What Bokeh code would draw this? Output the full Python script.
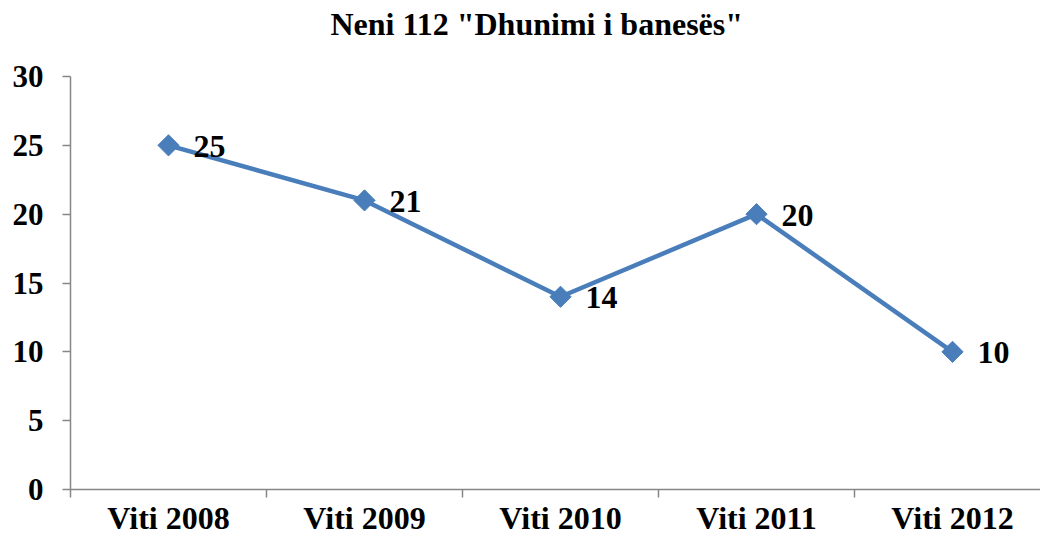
import math
from bokeh.plotting import figure
from bokeh.models import Range1d, FixedTicker, Title
from bokeh.core.properties import value
from bokeh.embed import file_html
from bokeh.resources import INLINE

categories = ["Viti 2008", "Viti 2009", "Viti 2010", "Viti 2011", "Viti 2012"]
values = [25, 21, 14, 20, 10]
y_ticks = [0, 5, 10, 15, 20, 25, 30]
title_text = 'Neni 112 "Dhunimi i banesës"'

FONT = "Liberation Serif"
AXIS_COLOR = "#868686"
LINE_COLOR = "#4A7EBB"

xs = [i + 0.5 for i in range(len(categories))]
boundaries = [float(i) for i in range(len(categories) + 1)]

p = figure(width=1040, height=539, output_backend="svg", toolbar_location=None,
           x_range=Range1d(0, 970 / 196), y_range=Range1d(0, 30),
           min_border_left=70, min_border_right=0, min_border_top=76, min_border_bottom=50)
p.title = None
p.outline_line_color = None
p.xgrid.grid_line_color = None
p.ygrid.grid_line_color = None

# spacer between frame and title (closest to the frame)
p.add_layout(Title(text=" ", text_font_size="1px", standoff=31), "above")
p.add_layout(Title(text=title_text, align="left", vertical_align="bottom", text_font=FONT,
                   text_font_size="32px", text_font_style="bold", text_color="black",
                   offset=260, standoff=2), "above")

# y axis
ya = p.yaxis[0]
ya.ticker = FixedTicker(ticks=y_ticks, minor_ticks=[])
ya.axis_line_color = AXIS_COLOR
ya.axis_line_width = 1.5
ya.major_tick_line_color = AXIS_COLOR
ya.major_tick_line_width = 1.5
ya.major_tick_in = 0
ya.major_tick_out = 8
ya.minor_tick_line_color = None
ya.major_label_standoff = 19
ya.major_label_text_font = FONT
ya.major_label_text_font_size = "31px"
ya.major_label_text_font_style = "bold"
ya.major_label_text_color = "black"

# x axis (category boundaries as ticks, labels at centres)
xa = p.xaxis[0]
xa.ticker = FixedTicker(ticks=xs, minor_ticks=boundaries)
xa.major_label_overrides = {x: c for x, c in zip(xs, categories)}
xa.axis_line_color = AXIS_COLOR
xa.axis_line_width = 1.5
xa.major_tick_line_color = None
xa.major_tick_in = 0
xa.major_tick_out = 0
xa.minor_tick_line_color = AXIS_COLOR
xa.minor_tick_line_width = 1.5
xa.minor_tick_in = 0
xa.minor_tick_out = 8
xa.major_label_standoff = 2
xa.major_label_text_font = FONT
xa.major_label_text_font_size = "32px"
xa.major_label_text_font_style = "bold"
xa.major_label_text_color = "black"

p.line(xs, values, line_color=LINE_COLOR, line_width=4.5)
p.scatter(xs, values, marker="square", angle=math.pi / 4, size=15,
          fill_color=LINE_COLOR, line_color=LINE_COLOR)
p.text(xs, values, text=[str(v) for v in values], x_offset=25, y_offset=1,
       text_baseline="middle", text_align="left", text_font=value(FONT),
       text_font_size="32px", text_font_style="bold", text_color="black")

open("out.html", "w").write(file_html(p, INLINE))
